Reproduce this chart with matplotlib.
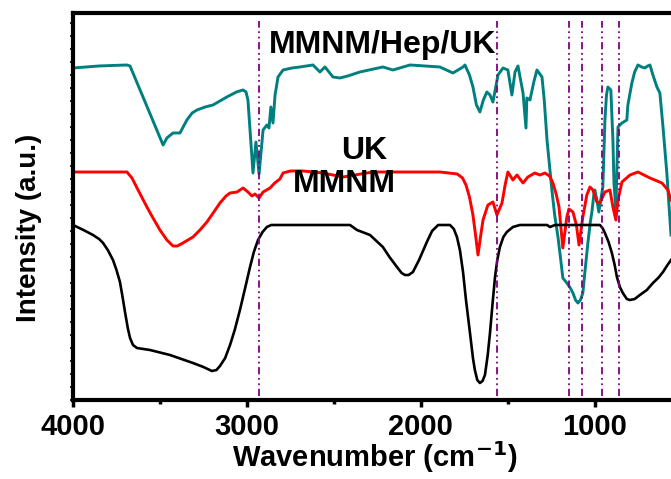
import numpy as np
import matplotlib
matplotlib.use("Agg")
import matplotlib.pyplot as plt
from matplotlib.ticker import MultipleLocator

plt.rcParams["font.family"] = ["Liberation Sans", "DejaVu Sans"]
plt.rcParams["font.weight"] = "bold"

# MMNM/Hep/UK (teal)
hep_wn = [4000, 3850, 3690, 3672, 3482, 3460, 3425, 3385, 3345, 3315, 3287, 3240, 3195,
          3115, 3060, 3022, 3005, 2994, 2980, 2965, 2948, 2930, 2907, 2885, 2873, 2862,
          2850, 2838, 2821, 2792, 2740, 2695, 2620, 2580, 2551, 2505, 2465, 2420, 2350,
          2218, 2160, 2062, 1890, 1815, 1757, 1746, 1720, 1700, 1680, 1660, 1640, 1620,
          1602, 1585, 1556, 1527, 1499, 1476, 1458, 1441, 1412, 1395, 1390, 1372, 1350,
          1332, 1303, 1290, 1274, 1260, 1246, 1230, 1211, 1195, 1183, 1160, 1140, 1125,
          1110, 1096, 1082, 1068, 1055, 1039, 1025, 1016, 1005, 999, 987, 976, 965, 953,
          941, 932, 924, 907, 895, 889, 878, 866, 843, 815, 809, 786, 770, 751, 730, 711,
          695, 682, 665, 642, 625, 607, 585, 561]
hep_i = [332, 334, 335, 334, 255, 262, 267, 267, 280, 287, 290, 293, 295,
         303, 308, 310, 308, 300, 265, 227, 258, 226, 270, 275, 272, 293,
         277, 305, 323, 330, 332, 333, 335, 328, 333, 323, 322, 324, 328,
         333, 330, 335, 333, 327, 333, 335, 325, 313, 295, 288, 300, 308,
         305, 298, 325, 332, 330, 305, 328, 334, 307, 272, 302, 300, 318,
         330, 323, 300, 260, 235, 210, 185, 163, 140, 122, 117, 112, 107,
         100, 97, 100, 107, 130, 157, 178, 188, 205, 210, 200, 188, 200, 213,
         280, 305, 313, 310, 260, 217, 190, 273, 277, 280, 295, 317, 328, 335, 333, 332,
         334, 335, 325, 313, 307, 273, 227, 165]

# UK (red)
uk_wn = [4000, 3690, 3661, 3620, 3575, 3540, 3500, 3460, 3425, 3400, 3368, 3310, 3270,
         3230, 3190, 3155, 3120, 3097, 3057, 3022, 2994, 2971, 2953, 2930, 2907, 2867,
         2840, 2810, 2792, 2750, 2677, 2563, 2448, 2275, 2022, 1890, 1790, 1760, 1740,
         1720, 1700, 1685, 1671, 1655, 1642, 1614, 1585, 1562, 1533, 1515, 1499, 1470,
         1447, 1412, 1384, 1344, 1315, 1286, 1260, 1240, 1220, 1205, 1183, 1160, 1148,
         1125, 1105, 1090, 1068, 1045, 1027, 1010, 987, 970, 941, 912, 895, 878, 866,
         843, 797, 751, 682, 613, 579, 561]
uk_i = [228, 228, 222, 208, 193, 182, 170, 160, 154, 154, 157, 163, 170,
        178, 188, 197, 204, 207, 208, 212, 208, 204, 206, 202, 208, 212,
        217, 221, 227, 229, 229, 227, 223, 228, 228, 228, 226, 222, 215,
        203, 185, 165, 145, 165, 180, 195, 198, 185, 197, 215, 228, 220,
        225, 217, 223, 227, 225, 227, 224, 217, 205, 193, 152, 183, 191,
        188, 175, 155, 183, 205, 213, 210, 198, 197, 208, 210, 193, 180, 200,
        218, 225, 228, 222, 217, 210, 200]

# MMNM (black)
mm_wn = [4000, 3940, 3885, 3850, 3827, 3800, 3770, 3750, 3730, 3715, 3701, 3685, 3672,
         3655, 3632, 3557, 3442, 3310, 3250, 3201, 3175, 3155, 3125, 3097, 3070, 3040,
         3010, 2982, 2960, 2936, 2910, 2885, 2860, 2792, 2407, 2367, 2292, 2218, 2180,
         2137, 2110, 2091, 2070, 2045, 2010, 1985, 1965, 1935, 1900, 1832, 1810, 1792,
         1775, 1757, 1740, 1717, 1700, 1689, 1675, 1660, 1645, 1631, 1615, 1602, 1588,
         1573, 1560, 1545, 1525, 1505, 1470, 1430, 1274, 1257, 1228, 970, 955, 941, 920,
         901, 885, 872, 855, 838, 815, 797, 770, 740, 700, 665, 635, 607, 585, 561]
mm_i = [175, 170, 165, 161, 157, 150, 140, 130, 118, 103, 88, 72, 62,
        55, 52, 50, 45, 37, 33, 29, 30, 34, 42, 55, 70, 90,
        112, 133, 148, 160, 168, 173, 175, 175, 175, 170, 165, 153, 143,
        133, 127, 125, 125, 128, 140, 150, 158, 169, 175, 175, 171, 163,
        150, 128, 100, 67, 42, 30, 20, 17, 19, 25, 45, 67, 95,
        123, 140, 153, 163, 168, 173, 175, 175, 173, 175, 175, 172, 167, 158,
        147, 135, 123, 113, 107, 101, 100, 101, 105, 110, 117, 122, 128, 134, 140]

marker_lines = [2930, 1560, 1147, 1070, 955, 862]

fig = plt.figure(figsize=(6.71, 4.79), dpi=100)
ax = fig.add_axes([0.1088, 0.1649, 0.8912, 0.808])

ax.plot(hep_wn, hep_i, color="#007f7f", lw=2.1)
ax.plot(uk_wn, uk_i, color="#ff0000", lw=2.1)
ax.plot(mm_wn, mm_i, color="black", lw=1.9)
for w in marker_lines:
    ax.plot([w, w], [4, 379], color="#800080", lw=1.3, ls=(0, (4, 2, 1, 2, 1, 2)))

ax.set_xlim(4000, 561)
ax.set_ylim(0, 387)

ax.text(2220, 355, "MMNM/Hep/UK", fontsize=23, fontweight="bold", ha="center", va="center")
ax.text(2325, 249, "UK", fontsize=23, fontweight="bold", ha="center", va="center")
ax.text(2440, 216, "MMNM", fontsize=23, fontweight="bold", ha="center", va="center")

ax.xaxis.set_major_locator(MultipleLocator(1000))
ax.xaxis.set_minor_locator(MultipleLocator(500))
ax.yaxis.set_major_locator(MultipleLocator(13))
ax.set_yticklabels([])
ax.tick_params(axis="x", which="major", direction="out", length=5, width=2.5,
               labelsize=21, pad=4)
ax.tick_params(axis="x", which="minor", direction="out", length=3, width=2.5)
ax.tick_params(axis="y", which="major", direction="out", length=2, width=1.2)
for lab in ax.get_xticklabels():
    lab.set_fontweight("bold")

for side in ("left", "bottom", "top"):
    ax.spines[side].set_linewidth(3)
ax.spines["right"].set_visible(False)

ax.set_xlabel("Wavenumber (cm$^{\\mathbf{-1}}$)", fontsize=21, fontweight="bold")
ax.xaxis.set_label_coords(0.505, -0.102)
ax.set_ylabel("Intensity (a.u.)", fontsize=20, fontweight="bold")
ax.yaxis.set_label_coords(-0.052, 0.445)

fig.savefig("out.png", dpi=100)
